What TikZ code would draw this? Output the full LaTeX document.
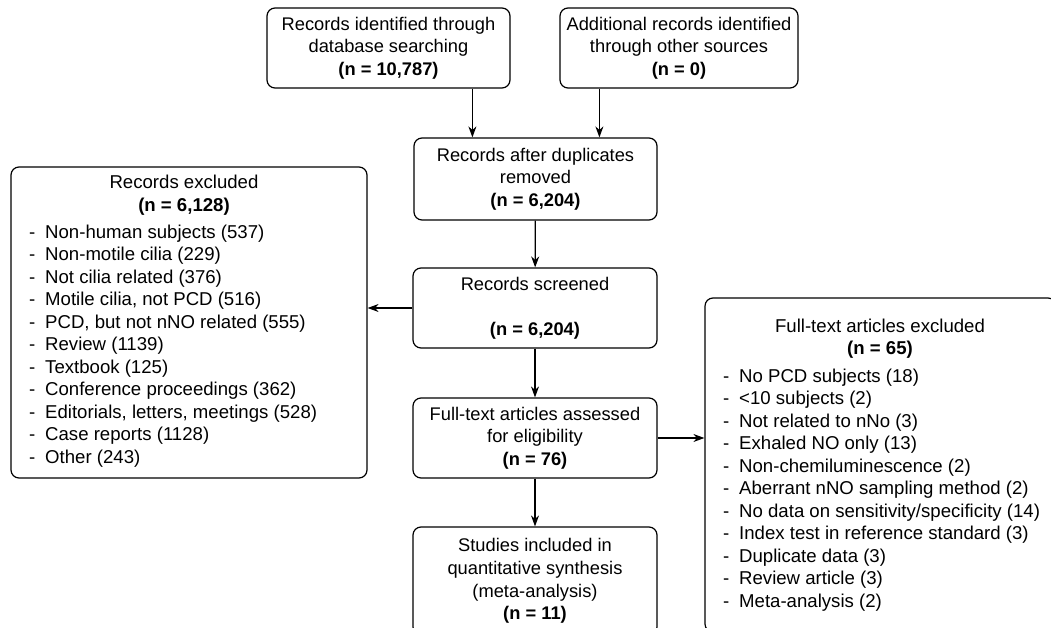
\documentclass[tikz,border=0pt]{standalone}
\usepackage{fontspec}
\setmainfont{Liberation Sans}
\usetikzlibrary{arrows.meta}

\newcommand{\dashitem}[1]{\makebox[16pt][l]{-}#1}

\tikzset{
    flowbox/.style={draw, rounded corners=8pt, line width=1.2pt, align=center,
        inner sep=0pt, font=\fontsize{18.3}{22.6}\selectfont},
    flowarrow/.style={-{Stealth[length=11pt, width=8pt]}, line width=1.2pt},
    boxtext/.style={inner sep=0pt, font=\fontsize{18.6}{22.5}\selectfont}
}

\begin{document}
\begin{tikzpicture}[x=1pt, y=-1pt]
    \useasboundingbox (0,0) rectangle (1051,628);
    \clip (0,0) rectangle (1051,628);

    % identification
    \node[flowbox, minimum width=243pt, minimum height=80pt] (db) at (388.5,48)
        {Records identified through\\database searching\\\textbf{(n = 10,787)}};
    \node[flowbox, minimum width=238pt, minimum height=80pt] (other) at (679,48)
        {Additional records identified\\through other sources\\\textbf{(n = 0)}};

    % screening
    \node[flowbox, minimum width=243pt, minimum height=82pt] (dup) at (535.5,179)
        {Records after duplicates\\removed\\\textbf{(n = 6,204)}};
    \node[flowbox, minimum width=244pt, minimum height=80pt] (screen) at (535,308)
        {Records screened\\[22.6pt]\textbf{(n = 6,204)}};

    % eligibility and inclusion
    \node[flowbox, minimum width=244pt, minimum height=80pt] (full) at (535,438)
        {Full-text articles assessed\\for eligibility\\\textbf{(n = 76)}};
    \node[flowbox, minimum width=244pt, minimum height=108pt] (incl) at (535,581)
        {Studies included in\\quantitative synthesis\\(meta-analysis)\\\textbf{(n = 11)}};

    % exclusion boxes
    \node[flowbox, minimum width=356pt, minimum height=311pt] (excl) at (189,322.5) {};
    \node[boxtext, align=center] (extitle) at (184,195)
        {Records excluded\\\textbf{(n = 6,128)}};
    \node[boxtext, align=left, anchor=west] (exlist) at (29,346)
        {\dashitem{Non-human subjects (537)}\\
         \dashitem{Non-motile cilia (229)}\\
         \dashitem{Not cilia related (376)}\\
         \dashitem{Motile cilia, not PCD (516)}\\
         \dashitem{PCD, but not nNO related (555)}\\
         \dashitem{Review (1139)}\\
         \dashitem{Textbook (125)}\\
         \dashitem{Conference proceedings (362)}\\
         \dashitem{Editorials, letters, meetings (528)}\\
         \dashitem{Case reports (1128)}\\
         \dashitem{Other (243)}};

    \node[flowbox, minimum width=351pt, minimum height=334pt] (ftexcl) at (880.5,465) {};
    \node[boxtext, align=center] (fttitle) at (880,338.5)
        {Full-text articles excluded\\\textbf{(n = 65)}};
    \node[boxtext, align=left, anchor=west] (ftlist) at (723,490)
        {\dashitem{No PCD subjects (18)}\\
         \dashitem{<10 subjects (2)}\\
         \dashitem{Not related to nNo (3)}\\
         \dashitem{Exhaled NO only (13)}\\
         \dashitem{Non-chemiluminescence (2)}\\
         \dashitem{Aberrant nNO sampling method (2)}\\
         \dashitem{No data on sensitivity/specificity (14)}\\
         \dashitem{Index test in reference standard (3)}\\
         \dashitem{Duplicate data (3)}\\
         \dashitem{Review article (3)}\\
         \dashitem{Meta-analysis (2)}};

    % arrows
    \coordinate (dupin1) at ([xshift=59pt]dup.north west);
    \coordinate (dupin2) at ([xshift=186pt]dup.north west);
    \draw[flowarrow] (dupin1 |- db.south) -- (dupin1);
    \draw[flowarrow] (dupin2 |- other.south) -- (dupin2);
    \draw[flowarrow] (dup) -- (screen);
    \draw[flowarrow] (screen.west) -- (screen.west -| excl.east);
    \draw[flowarrow] (screen) -- (full);
    \draw[flowarrow] (full.east) -- (full.east -| ftexcl.west);
    \draw[flowarrow] (full) -- (incl);
\end{tikzpicture}
\end{document}
